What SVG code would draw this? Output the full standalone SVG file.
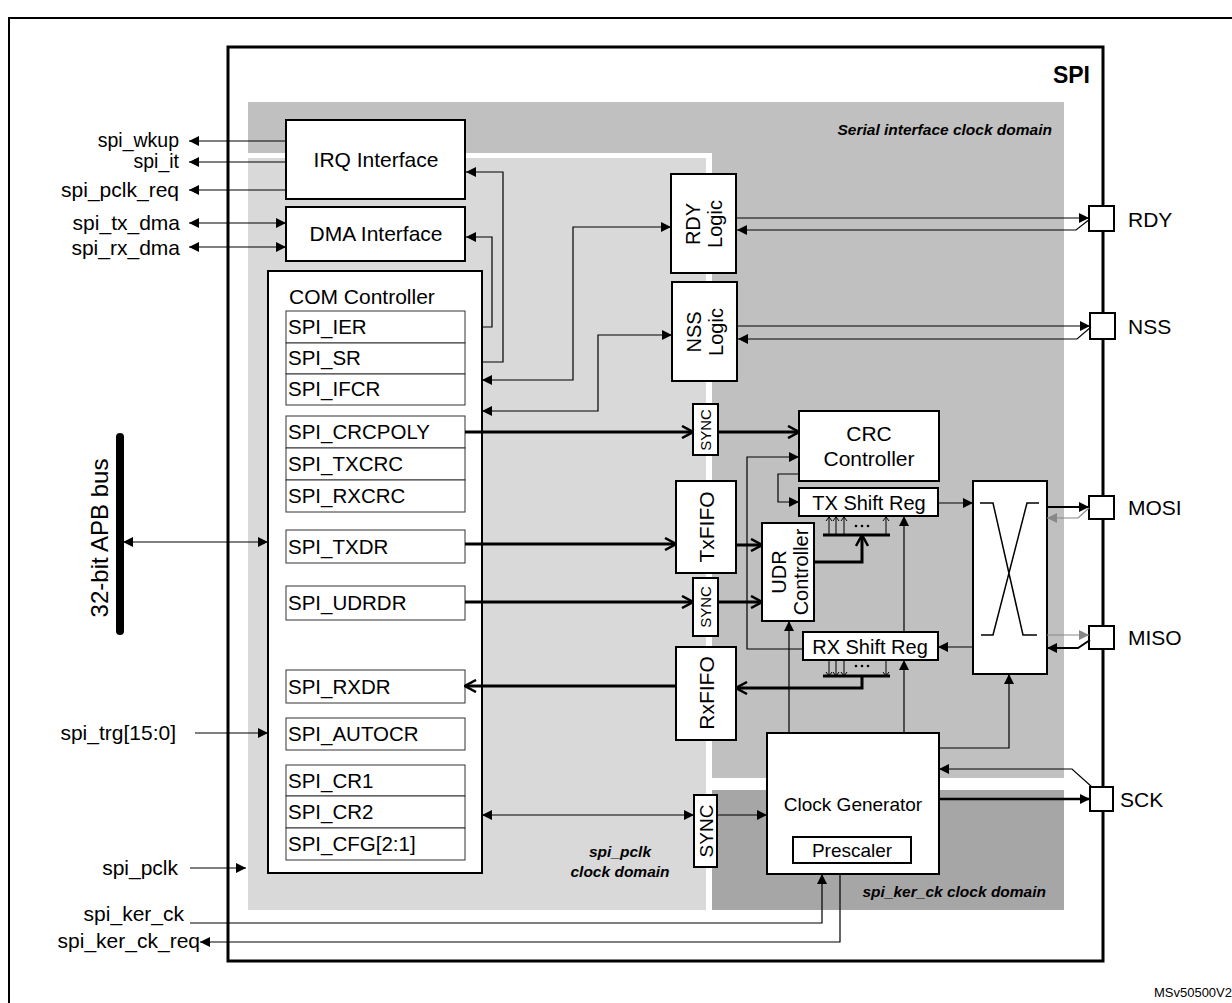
<svg xmlns="http://www.w3.org/2000/svg" width="1232" height="1003" viewBox="0 0 1232 1003">
<defs>
<marker id="a" viewBox="0 0 10 10" refX="10" refY="5" markerWidth="13" markerHeight="10" markerUnits="userSpaceOnUse" orient="auto"><path d="M0,0L10,5L0,10z" fill="#000"/></marker>
<marker id="ag" viewBox="0 0 10 10" refX="10" refY="5" markerWidth="13" markerHeight="10" markerUnits="userSpaceOnUse" orient="auto"><path d="M0,0L10,5L0,10z" fill="#888"/></marker>
<marker id="o" viewBox="0 0 14 14" refX="13" refY="7" markerWidth="14" markerHeight="14" markerUnits="userSpaceOnUse" orient="auto"><path d="M2,1L13,7L2,13" fill="none" stroke="#000" stroke-width="2.5"/></marker>
</defs>
<style>
text{font-family:"Liberation Sans",Arial,sans-serif;fill:#000}
.l{font-size:21px;text-anchor:end}
.s{font-size:19.5px}
.r{font-size:20.5px}
.c{text-anchor:middle}
.f{font-size:21px}
.box{fill:#fff;stroke:#000;stroke-width:2}
.reg{fill:#fff;stroke:#333;stroke-width:1}
.w{fill:none;stroke:#000;stroke-width:1.2}
.t{fill:none;stroke:#000;stroke-width:3}
.it{font-style:italic;font-weight:bold;font-size:15.5px}
</style>
<rect width="1232" height="1003" fill="#fff"/>
<path d="M9,1003V18H1232" fill="none" stroke="#000" stroke-width="2"/>
<g id="spi">
<rect x="228" y="47" width="875" height="914" fill="#fff" stroke="#000" stroke-width="3"/>
<text x="1090" y="83" font-size="23" font-weight="bold" text-anchor="end">SPI</text>
</g>
<g id="domains">
<rect x="248" y="102" width="816" height="676" fill="#c0c0c0"/>
<rect x="248" y="153" width="464" height="757" fill="#fff"/>
<rect x="248" y="158" width="458" height="752" fill="#d9d9d9"/>
<rect x="712" y="790" width="352" height="120" fill="#a6a6a6"/>
<text x="1052" y="135" class="it" text-anchor="end">Serial interface clock domain</text>
<text x="620" y="857" class="it c">spi_pclk</text>
<text x="620" y="877" class="it c">clock domain</text>
<text x="1046" y="897" class="it" text-anchor="end">spi_ker_ck  clock domain</text>
</g>
<g id="irq"><rect class="box" x="286" y="120" width="179" height="79"/><text x="376" y="167" class="c f">IRQ Interface</text></g>
<g id="dma"><rect class="box" x="286" y="207" width="179" height="54"/><text x="376" y="241" class="c f">DMA Interface</text></g>
<g id="com">
<rect class="box" x="268" y="271" width="214" height="602"/>
<text x="289" y="304" class="f">COM Controller</text>
<g class="reg">
<rect x="286" y="311" width="179" height="32"/><rect x="286" y="343" width="179" height="31"/><rect x="286" y="374" width="179" height="31"/>
<rect x="286" y="416" width="179" height="32"/><rect x="286" y="448" width="179" height="32"/><rect x="286" y="480" width="179" height="32"/>
<rect x="286" y="530" width="179" height="33"/><rect x="286" y="586" width="179" height="34"/><rect x="286" y="670" width="179" height="33"/>
<rect x="286" y="718" width="179" height="32"/><rect x="286" y="765" width="179" height="31"/><rect x="286" y="796" width="179" height="32"/><rect x="286" y="828" width="179" height="32"/>
</g>
<g class="r">
<text x="288" y="334">SPI_IER</text><text x="288" y="365">SPI_SR</text><text x="288" y="396">SPI_IFCR</text>
<text x="288" y="439">SPI_CRCPOLY</text><text x="288" y="471">SPI_TXCRC</text><text x="288" y="503">SPI_RXCRC</text>
<text x="288" y="554">SPI_TXDR</text><text x="288" y="610">SPI_UDRDR</text><text x="288" y="694">SPI_RXDR</text>
<text x="288" y="741">SPI_AUTOCR</text><text x="288" y="788">SPI_CR1</text><text x="288" y="819">SPI_CR2</text><text x="288" y="851">SPI_CFG[2:1]</text>
</g>
</g>
<g id="rdy"><rect class="box" x="671" y="174" width="65" height="99"/><text transform="translate(700,224) rotate(-90)" font-size="20" class="c">RDY</text><text transform="translate(722,224) rotate(-90)" font-size="20" class="c">Logic</text></g>
<g id="nss"><rect class="box" x="672" y="282" width="65" height="99"/><text transform="translate(701,332) rotate(-90)" font-size="20" class="c">NSS</text><text transform="translate(723,332) rotate(-90)" font-size="20" class="c">Logic</text></g>
<g id="sync1"><rect class="box" x="693" y="404" width="25" height="51" stroke-width="1.5"/><text transform="translate(711,430) rotate(-90)" font-size="15" class="c">SYNC</text></g>
<g id="sync2"><rect class="box" x="693" y="578" width="25" height="58" stroke-width="1.5"/><text transform="translate(711,607) rotate(-90)" font-size="15" class="c">SYNC</text></g>
<g id="sync3"><rect class="box" x="694" y="795" width="23" height="72" stroke-width="1.5"/><text transform="translate(713,831) rotate(-90)" font-size="19" class="c">SYNC</text></g>
<g id="crc"><rect class="box" x="799" y="411" width="140" height="70"/><text x="869" y="441" class="c f">CRC</text><text x="869" y="466" class="c f">Controller</text></g>
<g id="txsr"><rect class="box" x="799" y="488" width="139" height="28"/><text x="869" y="510" font-size="20" class="c">TX Shift Reg</text></g>
<g id="rxsr"><rect class="box" x="803" y="632" width="135" height="28"/><text x="870" y="654" font-size="20" class="c">RX Shift Reg</text></g>
<g id="txfifo"><rect class="box" x="676" y="481" width="60" height="92"/><text transform="translate(714,527) rotate(-90)" class="c f">TxFIFO</text></g>
<g id="rxfifo"><rect class="box" x="676" y="647" width="60" height="93"/><text transform="translate(714,693) rotate(-90)" class="c f">RxFIFO</text></g>
<g id="udr"><rect class="box" x="762" y="523" width="52" height="98"/><text transform="translate(786,572) rotate(-90)" font-size="20" class="c">UDR</text><text transform="translate(808,572) rotate(-90)" font-size="20" class="c">Controller</text></g>
<g id="mux"><rect class="box" x="973" y="481" width="74" height="193"/><path d="M980,503H993L1023,635H1037M1039,503H1027L993,635H981" fill="none" stroke="#000" stroke-width="1.5"/></g>
<g id="clkgen"><rect class="box" x="767" y="733" width="172" height="141"/><text x="853" y="811" font-size="19" class="c">Clock Generator</text><rect class="box" x="793" y="837" width="118" height="26" stroke-width="1.5"/><text x="852" y="857" font-size="19" class="c">Prescaler</text></g>
<g id="pins" class="box" stroke-width="1.5">
<rect x="1089" y="206" width="25" height="25"/><rect x="1090" y="313" width="25" height="26"/><rect x="1089" y="496" width="25" height="23"/><rect x="1089" y="626" width="25" height="23"/><rect x="1090" y="787" width="23" height="24"/>
</g>
<g id="pinlabels" font-size="21">
<text x="1128" y="227">RDY</text><text x="1128" y="334">NSS</text><text x="1128" y="515">MOSI</text><text x="1128" y="645">MISO</text><text x="1120" y="807">SCK</text>
</g>
<g id="left">
<text class="l s" x="179" y="147">spi_wkup</text><text class="l s" x="179" y="168">spi_it</text><text class="l" x="179" y="197">spi_pclk_req</text>
<text class="l" x="180" y="230">spi_tx_dma</text><text class="l" x="180" y="255">spi_rx_dma</text>
<text class="l" x="176" y="740" font-size="20">spi_trg[15:0]</text><text class="l" x="178" y="875">spi_pclk</text>
<text class="l" x="184" y="921">spi_ker_ck</text><text class="l" x="200" y="948">spi_ker_ck_req</text>
<line x1="120" y1="437" x2="120" y2="631" stroke="#000" stroke-width="8" stroke-linecap="round"/>
<text transform="translate(108,538) rotate(-90)" font-size="24" class="c">32-bit APB bus</text>
<text x="1232" y="997" font-size="13" text-anchor="end">MSv50500V2</text>
</g>
<g id="connectors">
<g class="w" marker-end="url(#a)">
<path d="M286,141H189"/><path d="M286,162H189"/><path d="M286,190H189"/>
<path d="M230,223H189"/><path d="M230,223H286"/><path d="M230,247H189"/><path d="M230,247H286"/>
<path d="M200,542H123"/><path d="M200,542H268"/>
<path d="M195,733H268"/><path d="M190,868H246"/>
<path d="M482,362H503V172H466"/><path d="M482,327H492V237H466"/>
<path d="M573,300V227H671"/><path d="M573,300V380H482"/>
<path d="M598,370V335H672"/><path d="M598,370V411H482"/>
<path d="M736,218H1089"/><path d="M1090,219L1076,230H737"/>
<path d="M737,326H1090"/><path d="M1091,327L1077,339H738"/>
<path d="M799,474H778V502H799"/>
<path d="M803,649H747V457H799"/>
<path d="M938,503H973"/>
<path d="M1047,507H1089" stroke-width="2"/>
<path d="M1090,640L1078,648H1047" stroke-width="2"/>
<path d="M973,647H938"/>
<path d="M789,733V621"/><path d="M904,733V660"/><path d="M904,632V516"/>
<path d="M939,748H1009V674"/>
<path d="M939,799H1090" stroke-width="2.5"/>
<path d="M1092,787L1072,769H939"/>
<path d="M600,815H482"/><path d="M600,815H694"/><path d="M717,815H767"/>
<path d="M190,923H822V874"/>
<path d="M840,874V942H200"/>
</g>
<g fill="none" stroke="#888" stroke-width="1.2" marker-end="url(#ag)">
<path d="M1089,508L1078,518H1047"/>
<path d="M1047,635H1089"/>
</g>
<g class="t" marker-end="url(#o)">
<path d="M465,432H693"/><path d="M718,432H799"/>
<path d="M465,544H676"/><path d="M736,545H762"/>
<path d="M465,602H693"/><path d="M718,602H762"/>
<path d="M676,686H465"/>
<path d="M862,676V688H736"/>
<path d="M814,562H862V535"/>
</g>
<g stroke="#000" stroke-width="1">
<path d="M823,535H890M823,676H890" stroke-width="3"/>
<path d="M829,535V517M836,535V517M844,535V517M886,535V517"/>
<path d="M826,521L829,517L832,521M833,521L836,517L839,521M841,521L844,517L847,521M883,521L886,517L889,521" fill="none"/>
<path d="M829,660V676M836,660V676M844,660V676M886,660V676"/>
<path d="M826,672L829,676L832,672M833,672L836,676L839,672M841,672L844,676L847,672M883,672L886,676L889,672" fill="none"/>
</g>
<g fill="#000"><circle cx="856" cy="526" r="1.3"/><circle cx="862" cy="526" r="1.3"/><circle cx="868" cy="526" r="1.3"/><circle cx="856" cy="666" r="1.3"/><circle cx="862" cy="666" r="1.3"/><circle cx="868" cy="666" r="1.3"/></g>
</g>
</svg>
